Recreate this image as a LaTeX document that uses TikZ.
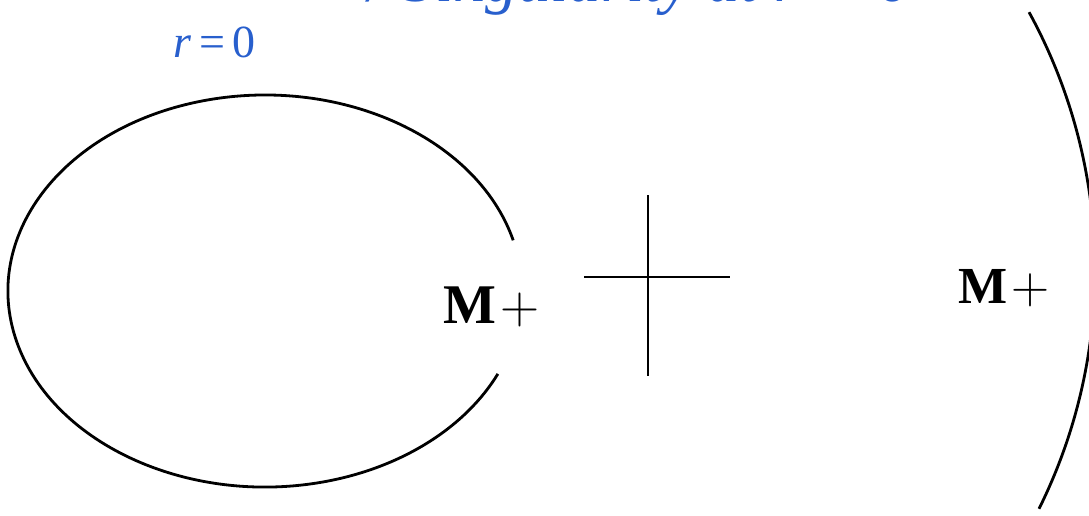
\documentclass[tikz,border=0pt]{standalone}
\usepackage{xcolor}
\usepackage{graphicx}
\usepackage{fontspec}
\setmainfont{Liberation Serif}
\usepackage{tikz}
\usetikzlibrary{positioning}

\definecolor{rblue}{RGB}{40,95,205}
\newcommand{\bigplus}[1]{\resizebox{#1}{!}{$+$}}

\begin{document}
\begin{tikzpicture}[x=1pt, y=1pt, line width=2.8pt, every node/.style={inner sep=0pt, anchor=base west}]
  \useasboundingbox (0,0) rectangle (1089,515);
  \tikzset{
    mlabel/.style={font=\fontsize{56}{60}\selectfont},
    blabel/.style={text=rblue, font=\fontsize{46}{50}\selectfont}
  }

  \node (title) [blabel, font=\fontsize{65}{70}\selectfont\itshape] at (367,513)
    {/ Singularity at r = {\upshape 0}};
  \node (rzero) [blabel] at (172,457) {\textit{r}\,=\,0};

  \node (m_left) [mlabel] at (442,192) {\textbf{M}\kern4pt\bigplus{39pt}};
  \node (m_right) [mlabel, font=\fontsize{52}{56}\selectfont] at (957,212) {\textbf{M}\kern4pt\bigplus{38pt}};

  % open ellipse and the far boundary
  \draw (513.2,274.7) arc[start angle=15, end angle=335, x radius=257pt, y radius=196pt];
  \draw (1039,6.2) arc[start angle=-26.4, end angle=28.7, radius=537pt];

  % cross
  \coordinate (cross_c) at (648,238);
  \draw ([yshift=82pt]cross_c) -- ([yshift=-99pt]cross_c);
  \draw ([xshift=-64pt]cross_c) -- ([xshift=82pt]cross_c);
\end{tikzpicture}
\end{document}
